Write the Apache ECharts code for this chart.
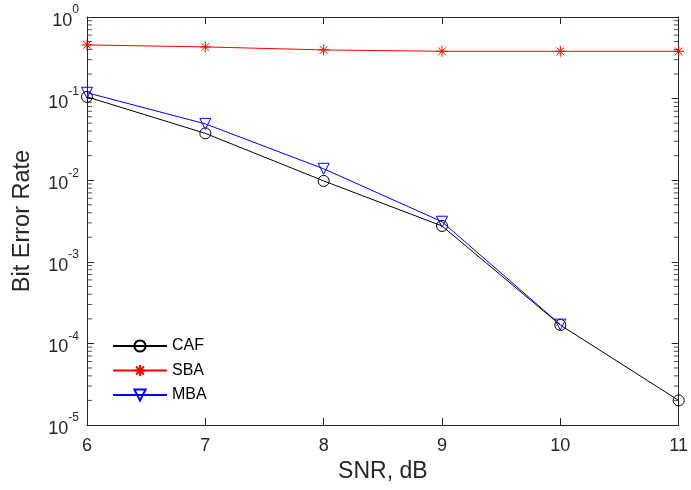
<!DOCTYPE html>
<html>
<head>
<meta charset="utf-8">
<script src="https://cdn.jsdelivr.net/npm/echarts@6/dist/echarts.min.js"></script>
<style>
html,body{margin:0;padding:0;background:#fff;}
#c{width:691px;height:490px;}
</style>
</head>
<body>
<div id="c"></div>
<script>
// ---- data ----
var snr = [6, 7, 8, 9, 10, 11];
var cafBER = [0.105, 0.0375, 0.0098, 0.00275, 1.68e-4, 2.0e-5];
var sbaBER = [0.455, 0.43, 0.395, 0.38, 0.38, 0.38];
var mbaBER = [0.118, 0.049, 0.0138, 0.0031, 1.7e-4];
var seriesNames = ['CAF', 'SBA', 'MBA'];
var xTicks = [6, 7, 8, 9, 10, 11];
var yMin = 1e-5, yMax = 1;
var minorMantissas = [2, 3, 4, 5, 6, 7, 8, 9];
var minorExponents = [-5, -4, -3, -2, -1];

function pairs(xs, ys) { return ys.map(function (v, i) { return [xs[i], v]; }); }

var minorLeft = [], minorRight = [];
minorExponents.forEach(function (e) {
  minorMantissas.forEach(function (m) {
    var v = m * Math.pow(10, e);
    minorLeft.push([xTicks[0], v]);
    minorRight.push([xTicks[xTicks.length - 1], v]);
  });
});

var FONT = "'Liberation Sans', Arial, Helvetica, sans-serif";
var AX = '#262626';
var star = 'path://M1,0L1,2M0,1L2,1M0.3,0.3L1.7,1.7M0.3,1.7L1.7,0.3';

var chart = echarts.init(document.getElementById('c'));
var xAxisBase = {
  type: 'value', min: 6, max: 11, interval: 1,
  axisLine: { show: true, onZero: false, lineStyle: { color: AX, width: 1 } },
  axisTick: { show: true, inside: true, length: 7, lineStyle: { color: AX, width: 1 } },
  splitLine: { show: false }
};
var yAxisBase = {
  type: 'log', logBase: 10, min: yMin, max: yMax, interval: 1,
  axisLine: { show: true, onZero: false, lineStyle: { color: AX, width: 1 } },
  axisTick: { show: true, inside: true, length: 7, lineStyle: { color: AX, width: 1 } },
  minorTick: { show: false },
  splitLine: { show: false }
};

function minorTickSeries(data, dir) {
  return {
    type: 'scatter', data: data, silent: true,
    xAxisIndex: 0, yAxisIndex: 0,
    symbol: 'rect', symbolSize: [5, 1], symbolOffset: [dir * 2.5, 0],
    itemStyle: { color: AX },
    z: 10
  };
}

chart.setOption({
  backgroundColor: '#fff',
  animation: false,
  textStyle: { fontFamily: FONT },
  grid: { left: 87, right: 8, top: 17, bottom: 65 },
  xAxis: [
    Object.assign({}, xAxisBase, {
      position: 'bottom',
      name: 'SNR, dB', nameLocation: 'middle', nameGap: 29,
      nameTextStyle: { fontSize: 23, color: AX, fontFamily: FONT },
      axisLabel: { fontSize: 18, color: AX, margin: 12, fontFamily: FONT }
    }),
    Object.assign({}, xAxisBase, { position: 'top', axisLabel: { show: false } })
  ],
  yAxis: [
    Object.assign({}, yAxisBase, {
      position: 'left',
      name: 'Bit Error Rate', nameLocation: 'middle', nameGap: 52,
      nameTextStyle: { fontSize: 23.5, color: AX, fontFamily: FONT },
      axisLabel: {
        margin: 8, color: AX,
        formatter: function (v) {
          var e = Math.round(Math.log10(v));
          return '{b|10}{s|' + e + '}';
        },
        rich: {
          b: { fontSize: 18, color: AX, fontFamily: FONT, padding: [8, 0, 0, 0] },
          s: { fontSize: 12, color: AX, fontFamily: FONT, verticalAlign: 'top' }
        }
      }
    }),
    Object.assign({}, yAxisBase, { position: 'right', axisLabel: { show: false } })
  ],
  legend: {
    data: seriesNames,
    orient: 'vertical',
    left: 107, top: 333,
    itemWidth: 54, itemHeight: 14, itemGap: 8.5,
    textStyle: { fontSize: 16, color: '#000', fontFamily: FONT }
  },
  series: [
    {
      name: 'CAF', type: 'line', data: pairs(snr, cafBER),
      symbol: 'circle', symbolSize: 11,
      lineStyle: { color: '#000', width: 1 },
      itemStyle: { color: 'rgba(0,0,0,0)', borderColor: '#000', borderWidth: 1 },
      z: 3
    },
    {
      name: 'SBA', type: 'line', data: pairs(snr, sbaBER),
      symbol: star, symbolSize: 11,
      lineStyle: { color: '#ff0000', width: 1 },
      itemStyle: { color: 'rgba(0,0,0,0)', borderColor: '#ff0000', borderWidth: 1 },
      z: 4
    },
    {
      name: 'MBA', type: 'line', data: pairs(snr, mbaBER),
      symbol: 'triangle', symbolRotate: 180, symbolSize: 11,
      lineStyle: { color: '#0000ff', width: 1 },
      itemStyle: { color: 'rgba(0,0,0,0)', borderColor: '#0000ff', borderWidth: 1 },
      z: 5
    },
    minorTickSeries(minorLeft, 1),
    minorTickSeries(minorRight, -1)
  ]
});
</script>
</body>
</html>
